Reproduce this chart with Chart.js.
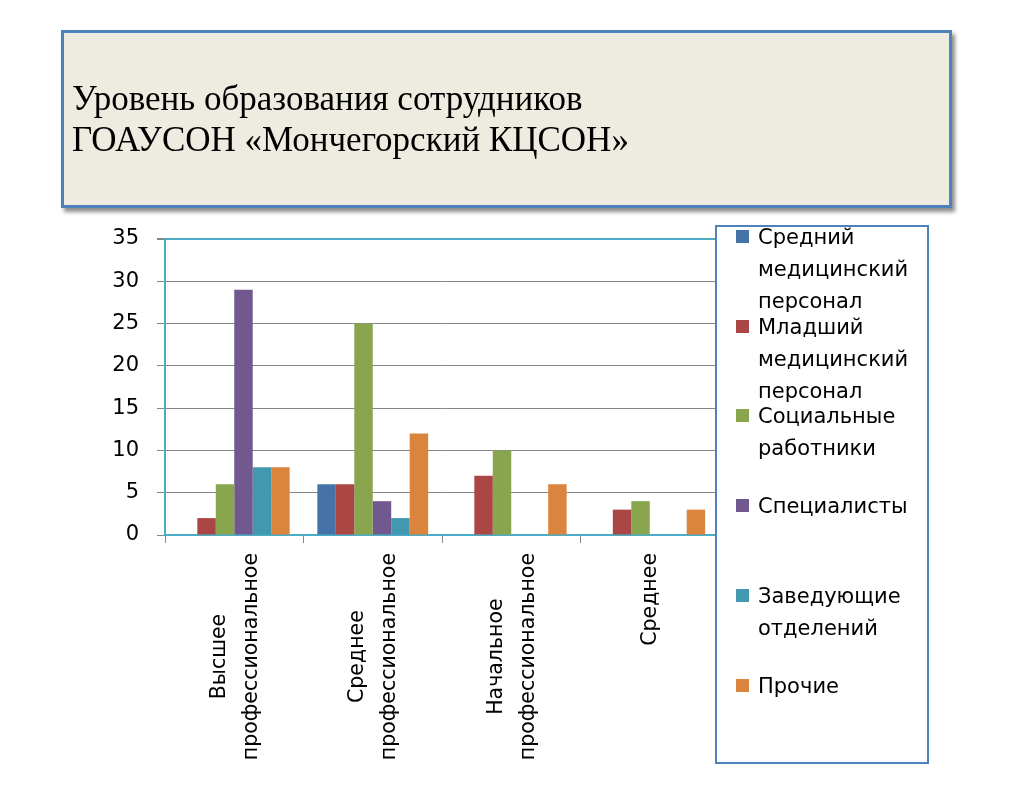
<!DOCTYPE html>
<html lang="ru">
<head>
<meta charset="utf-8">
<title>Уровень образования сотрудников</title>
<script src="https://cdn.jsdelivr.net/npm/chart.js@4.4.1/dist/chart.umd.min.js"></script>
<style>
    html, body { margin: 0; padding: 0; background: #fff; }
    body { width: 1027px; height: 799px; position: relative; overflow: hidden; }
    #chartWrap { position: absolute; left: 0; top: 0; width: 1027px; height: 799px; }
    #titleBox {
        position: absolute; left: 61px; top: 30px; width: 891px; height: 178px;
        box-sizing: border-box; background: #EEECE1; border: 3px solid #4F81BD;
        box-shadow: 3px 4px 4px rgba(0, 0, 0, 0.45);
    }
    #titleBox h1 {
        position: absolute; left: 8px; top: 45px; margin: 0;
        font: normal 35px/41px "Liberation Serif", serif; color: #000; white-space: nowrap;
    }
    #legend {
        position: absolute; left: 715px; top: 225px; width: 214px; height: 539px;
        box-sizing: border-box; border: 2px solid #4F81BD; background: #fff;
    }
    .item { position: absolute; left: 19px; width: 185px; font: 21px/32px "DejaVu Sans", sans-serif; color: #000; }
    .item .mark { position: absolute; left: 0; top: 9px; width: 13px; height: 13px; }
    .item .txt { margin-left: 22px; width: 163px; }
</style>
</head>
<body>
<div id="chartWrap"><canvas id="eduChart" width="1027" height="799"></canvas></div>
<div id="titleBox"><h1>Уровень образования сотрудников<br>ГОАУСОН «Мончегорский КЦСОН»</h1></div>
<div id="legend"></div>
<script>
// ======================================
// DATA
// ======================================

// Категории (строки подписи оси X)
const categories = [
    ['Высшее', 'профессиональное'],
    ['Среднее', 'профессиональное'],
    ['Начальное', 'профессиональное'],
    ['Среднее']
];

const seriesNames = [
    'Средний медицинский персонал',
    'Младший медицинский персонал',
    'Социальные работники',
    'Специалисты',
    'Заведующие отделений',
    'Прочие'
];

const srednijMed = [0, 6, 0, 0];
const mladshijMed = [2, 6, 7, 3];
const socialnye = [6, 25, 10, 4];
const specialisty = [29, 4, 0, 0];
const zaveduyushchie = [8, 2, 0, 0];
const prochie = [8, 12, 6, 3];

const yTicks = [0, 5, 10, 15, 20, 25, 30, 35];

const COLORS = ['#4572A7', '#AA4643', '#89A54E', '#71588F', '#4198AF', '#DB843D'];
const PLOT_BORDER = '#4BACC6';
const GRID = '#868686';

// ======================================
// CHART
// ======================================

const seriesValues = [srednijMed, mladshijMed, socialnye, specialisty, zaveduyushchie, prochie];

const eduData = {
    labels: categories,
    datasets: seriesNames.map((name, i) => ({
        label: name,
        data: seriesValues[i],
        backgroundColor: COLORS[i],
        borderWidth: 0,
        categoryPercentage: 0.8,
        barPercentage: 1.0
    }))
};

// Подписи оси X: повернуты, строки центрированы относительно самой длинной
const xLabelPlugin = {
    id: 'xLabels',
    afterDraw(chart) {
        const { ctx } = chart;
        const x = chart.scales.x;
        ctx.save();
        ctx.font = '20.5px "DejaVu Sans"';
        ctx.fillStyle = '#000';
        ctx.textAlign = 'center';
        ctx.textBaseline = 'middle';
        categories.forEach((lines, i) => {
            const cx = x.getPixelForValue(i);
            const maxW = Math.max(...lines.map(l => ctx.measureText(l).width));
            const cy = x.bottom + 18 + maxW / 2;
            lines.forEach((line, j) => {
                ctx.save();
                ctx.translate(cx + 1 + (j - (lines.length - 1) / 2) * 32, cy);
                ctx.rotate(-Math.PI / 2);
                ctx.fillText(line, 0, 0);
                ctx.restore();
            });
        });
        ctx.restore();
    }
};

const eduOptions = {
    responsive: false,
    animation: false,
    devicePixelRatio: 1,
    layout: { padding: { left: 0, top: 239, right: 308, bottom: 264 } },
    plugins: {
        legend: { display: false },
        title: { display: false },
        tooltip: { enabled: false }
    },
    scales: {
        x: {
            afterFit: scale => { scale.height = 0; },
            grid: { offset: true, drawOnChartArea: false, tickLength: 8, tickColor: GRID },
            border: { color: PLOT_BORDER, width: 2 },
            ticks: { display: false }
        },
        y: {
            min: 0,
            max: 35,
            afterFit: scale => { scale.width = 165; },
            afterBuildTicks: scale => { scale.ticks = yTicks.map(v => ({ value: v })); },
            grid: {
                color: c => (c.tick && c.tick.value === 35 ? PLOT_BORDER : GRID),
                lineWidth: c => (c.tick && c.tick.value === 35 ? 2 : 1),
                tickLength: 8,
                tickColor: GRID
            },
            border: { color: PLOT_BORDER, width: 2 },
            ticks: {
                padding: 18,
                color: '#000',
                font: { family: 'DejaVu Sans', size: 21 }
            }
        }
    }
};

document.addEventListener('DOMContentLoaded', function() {
    new Chart(document.getElementById('eduChart'), {
        type: 'bar',
        data: eduData,
        options: eduOptions,
        plugins: [xLabelPlugin]
    });

    // Легенда
    const legend = document.getElementById('legend');
    seriesNames.forEach((name, i) => {
        const item = document.createElement('div');
        item.className = 'item';
        item.style.top = (-6 + 89.7 * i) + 'px';
        item.innerHTML = '<div class="mark" style="background:' + COLORS[i] + '"></div><div class="txt">' + name + '</div>';
        legend.appendChild(item);
    });
});
</script>
</body>
</html>
